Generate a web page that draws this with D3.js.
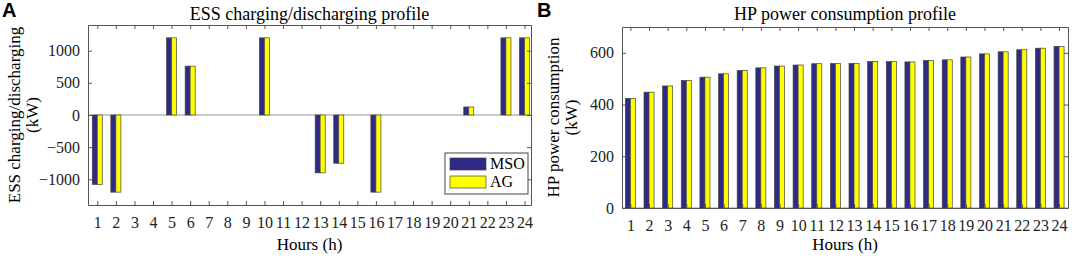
<!DOCTYPE html>
<html>
<head>
<meta charset="utf-8">
<script src="https://cdn.jsdelivr.net/npm/d3@7"></script>
<style>
  body { margin: 0; background: #fff; }
  svg text { font-family: "Liberation Serif", "Times New Roman", serif; }
  .axis path, .axis line { stroke: #555; }
</style>
</head>
<body>
<div id="chart"></div>
<script>
// hours 1..24
var hours = d3.range(1, 25);
// ESS charging/discharging (kW)
var essMSO = [-1080, -1200, 0, 0, 1200, 760, 0, 0, 0, 1200, 0, 0, -900, -750, 0, -1200, 0, 0, 0, 0, 125, 0, 1200, 1200];
var essAG  = [-1080, -1200, 0, 0, 1200, 760, 0, 0, 0, 1200, 0, 0, -900, -750, 0, -1200, 0, 0, 0, 0, 125, 0, 1200, 1200];
// HP power consumption (kW)
var hpMSO = [424, 448, 472, 493, 506, 519, 532, 542, 549, 553, 558, 559, 559, 566, 566, 565, 571, 573, 584, 596, 604, 612, 618, 625];
var hpAG  = [424, 448, 472, 493, 506, 519, 532, 542, 549, 553, 558, 559, 559, 566, 566, 565, 571, 573, 584, 596, 604, 612, 618, 625];
var essTicks = [-1000, -500, 0, 500, 1000];
var hpTicks = [0, 200, 400, 600];
var seriesNames = ["MSO", "AG"];
var colors = ["#2e2a85", "#ffff00"];

var W = 1072, H = 257;
var serif = "'Liberation Serif', 'Times New Roman', serif";
var svg = d3.select("#chart").append("svg").attr("width", W).attr("height", H);

function styleTicks(sel) {
  sel.attr("font-family", serif);
  sel.selectAll("text").attr("font-family", serif).attr("font-size", "16px").attr("fill", "#222");
}

function panel(opt) {
  var x = d3.scaleLinear().domain(opt.xdom).range([opt.left, opt.right]);
  var y = d3.scaleLinear().domain(opt.ydom).range([opt.bottom, opt.top]);
  var g = svg.append("g");
  var bw = 0.27; // bar width in hour units

  // baseline
  g.append("line")
    .attr("x1", opt.left).attr("x2", opt.right)
    .attr("y1", y(0)).attr("y2", y(0))
    .attr("stroke", "#999").attr("stroke-width", 1);

  [opt.a, opt.b].forEach(function(vals, si) {
    g.selectAll(".bar" + si)
      .data(hours)
      .enter().append("rect")
      .attr("x", function(h) { return x(h - bw + si * bw); })
      .attr("width", x(bw) - x(0))
      .attr("y", function(h) { return y(Math.max(0, vals[h - 1])); })
      .attr("height", function(h) { return Math.abs(y(vals[h - 1]) - y(0)); })
      .attr("fill", colors[si])
      .attr("stroke", "#444")
      .attr("stroke-width", 0.7);
  });

  // axes, ticks pointing in
  g.append("g").attr("class", "axis")
    .attr("transform", "translate(0," + opt.bottom + ")")
    .call(d3.axisBottom(x).tickValues(hours).tickSize(-4).tickPadding(12).tickSizeOuter(0))
    .call(styleTicks);
  g.append("g").attr("class", "axis")
    .attr("transform", "translate(0," + opt.top + ")")
    .call(d3.axisTop(x).tickValues(hours).tickSize(-4).tickFormat("").tickSizeOuter(0));
  g.append("g").attr("class", "axis")
    .attr("transform", "translate(" + opt.left + ",0)")
    .call(d3.axisLeft(y).tickValues(opt.yticks).tickFormat(d3.format("d")).tickSize(-4).tickPadding(8).tickSizeOuter(0))
    .call(styleTicks);
  g.append("g").attr("class", "axis")
    .attr("transform", "translate(" + opt.right + ",0)")
    .call(d3.axisRight(y).tickValues(opt.yticks).tickSize(-4).tickFormat("").tickSizeOuter(0));

  // title
  svg.append("text")
    .attr("x", (opt.left + opt.right) / 2).attr("y", 20)
    .attr("text-anchor", "middle").attr("font-size", "18px")
    .text(opt.title);
  // x label
  svg.append("text")
    .attr("x", (opt.left + opt.right) / 2).attr("y", 250)
    .attr("text-anchor", "middle").attr("font-size", "17px")
    .text("Hours (h)");
  // y label, two lines
  var yl = svg.append("text")
    .attr("transform", "translate(" + opt.ylx + "," + ((opt.top + opt.bottom) / 2) + ") rotate(-90)")
    .attr("text-anchor", "middle").attr("font-size", "17px");
  yl.append("tspan").attr("x", 0).attr("dy", 0).text(opt.ylabel);
  yl.append("tspan").attr("x", 0).attr("dy", 18).text("(kW)");
  // panel letter
  svg.append("text")
    .attr("x", opt.letterX).attr("y", 17)
    .attr("font-weight", "bold").attr("font-size", "20px")
    .style("font-family", "'Liberation Sans', Arial, sans-serif")
    .text(opt.letter);
  return { x: x, y: y };
}

panel({
  left: 88, right: 531, top: 25, bottom: 205,
  xdom: [0.5, 24.35], ydom: [-1400, 1400], yticks: essTicks,
  a: essMSO, b: essAG,
  title: "ESS charging/discharging profile",
  ylabel: "ESS charging/discharging", ylx: 20,
  letter: "A", letterX: 2
});

panel({
  left: 622, right: 1068, top: 27, bottom: 208,
  xdom: [0.55, 24.48], ydom: [0, 700], yticks: hpTicks,
  a: hpMSO, b: hpAG,
  title: "HP power consumption profile",
  ylabel: "HP power consumption", ylx: 559,
  letter: "B", letterX: 537
});

// legend for panel A
var lg = svg.append("g").attr("transform", "translate(445,153)");
lg.append("rect").attr("width", 83).attr("height", 41)
  .attr("fill", "#fff").attr("stroke", "#444").attr("stroke-width", 1);
seriesNames.forEach(function(n, i) {
  lg.append("rect").attr("x", 5).attr("y", 5 + i * 18).attr("width", 36).attr("height", 12)
    .attr("fill", colors[i]).attr("stroke", "#444").attr("stroke-width", 0.7);
  lg.append("text").attr("x", 45).attr("y", 16 + i * 18)
    .attr("font-size", "16px").text(n);
});
</script>
</body>
</html>
